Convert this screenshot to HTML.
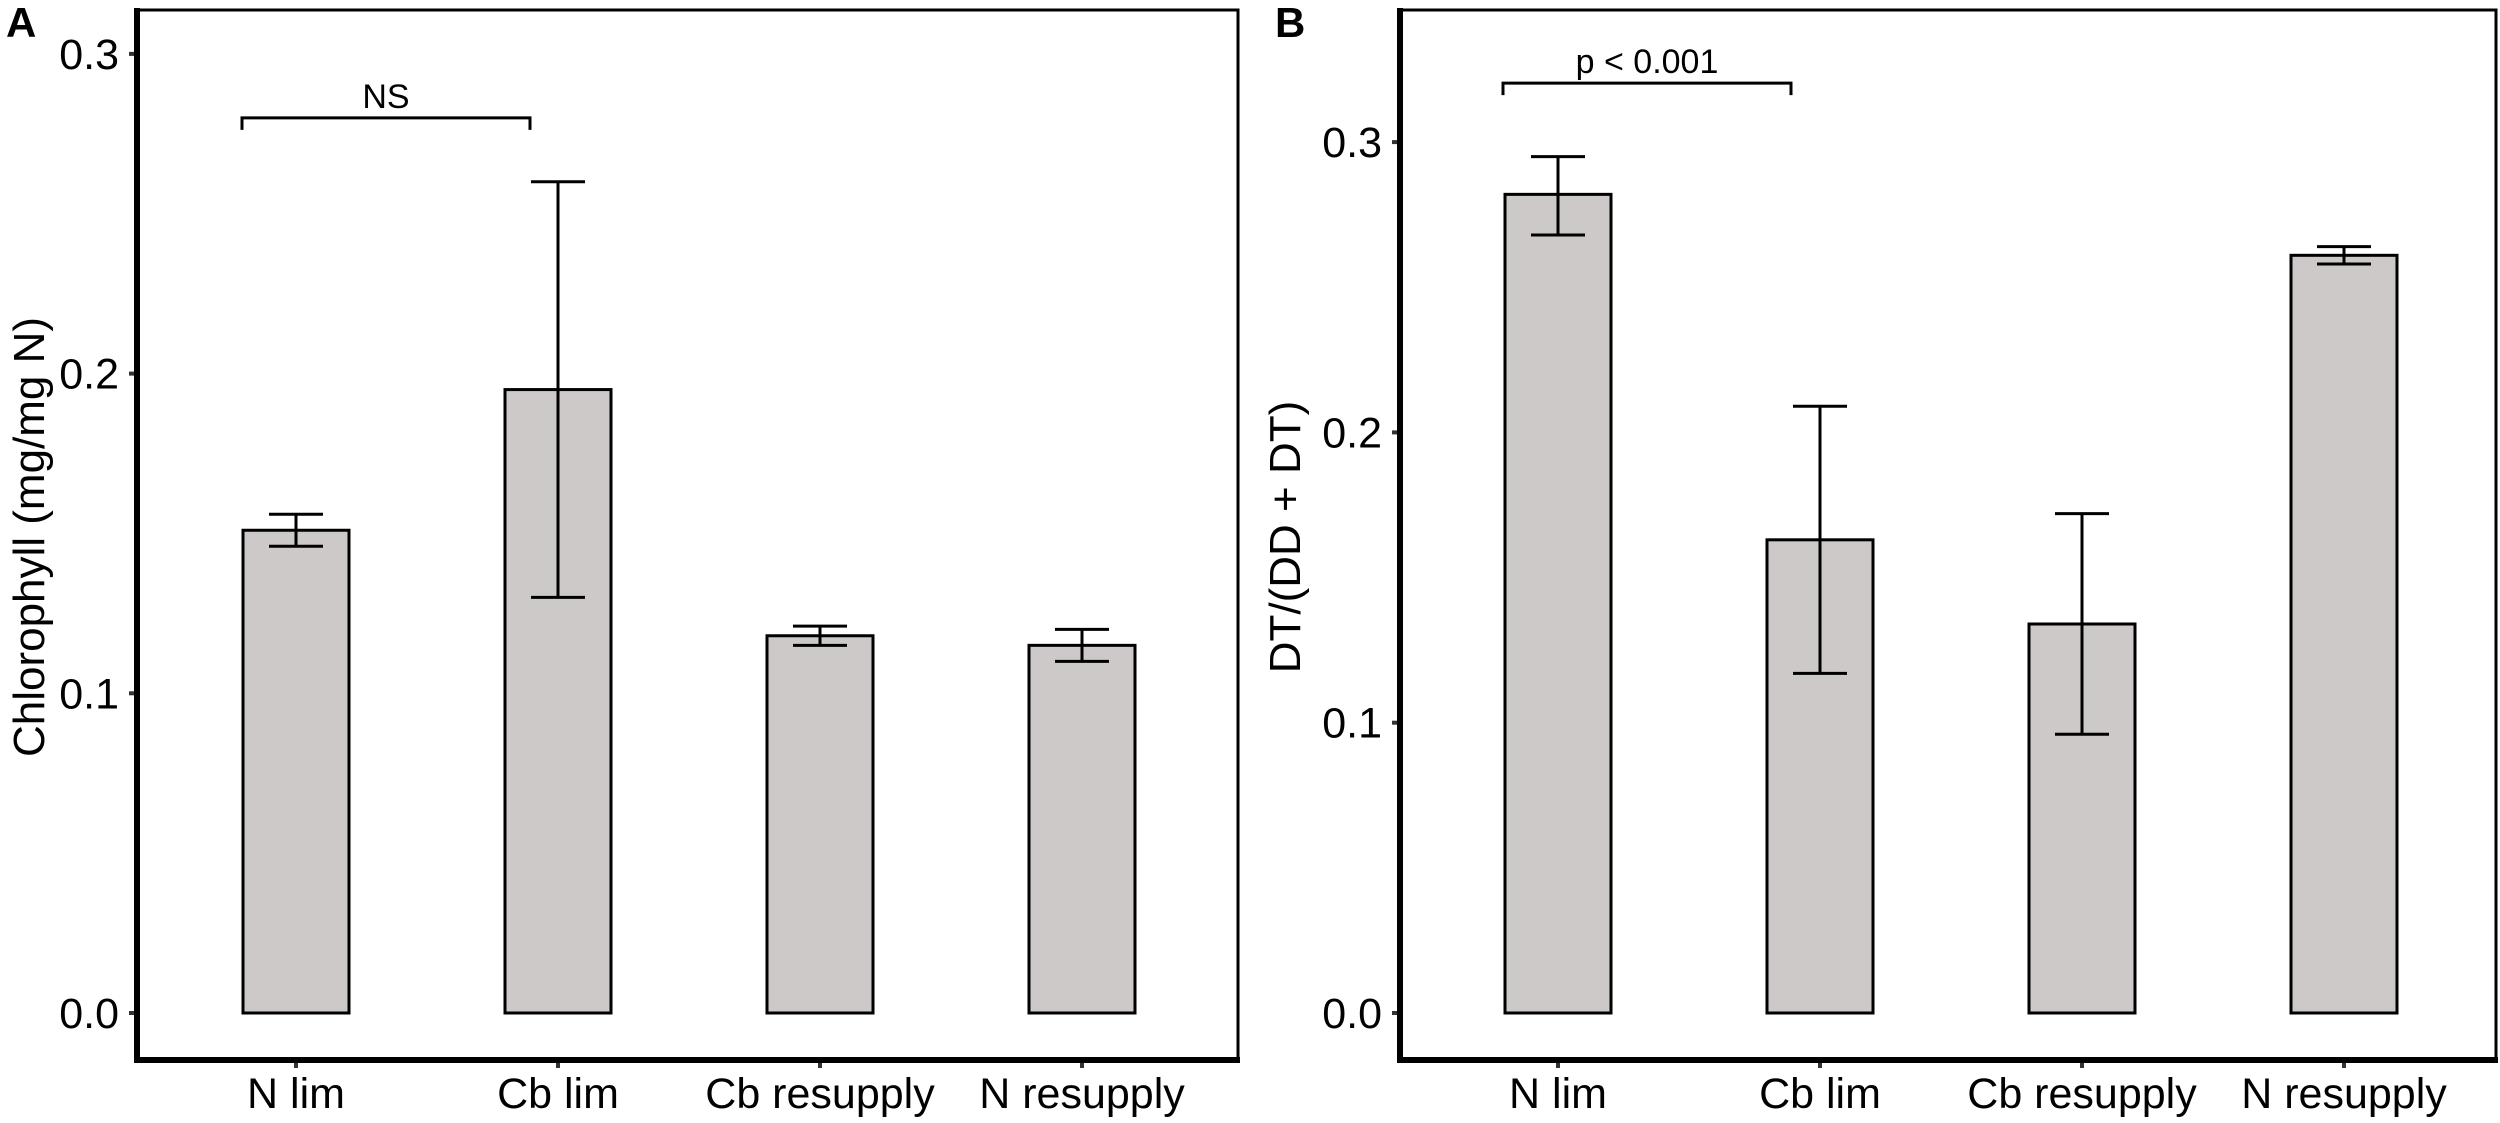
<!DOCTYPE html>
<html><head><meta charset="utf-8"><style>
html,body{margin:0;padding:0;background:#fff;}
svg{display:block;font-family:"Liberation Sans",Arial,sans-serif;}
</style></head><body>
<svg id="c" width="2500" height="1123" viewBox="0 0 2500 1123" xmlns="http://www.w3.org/2000/svg"></svg>
<script>
const categories = ["N lim","Cb lim","Cb resupply","N resupply"];
const chlValues = [0.151, 0.195, 0.118, 0.115];
const chlLow = [0.146, 0.130, 0.115, 0.110];
const chlHigh = [0.156, 0.260, 0.121, 0.120];
const dtValues = [0.282, 0.163, 0.134, 0.261];
const dtLow = [0.268, 0.117, 0.096, 0.258];
const dtHigh = [0.295, 0.209, 0.172, 0.264];
const ticksA = [0.0, 0.1, 0.2, 0.3];
const ticksB = [0.0, 0.1, 0.2, 0.3];

const NS = "http://www.w3.org/2000/svg";
const svg = document.getElementById('c');
function mk(tag, attrs, parent){const e=document.createElementNS(NS,tag);for(const k in attrs)e.setAttribute(k,attrs[k]);(parent||svg).appendChild(e);return e;}

const panels = [
 {id:'a', letter:'A', letterX:6, left:137, right:2500, rightB:1238, y0:1013, perUnit:3197, x0:296, step:262,
  vals:chlValues, lo:chlLow, hi:chlHigh, ticks:ticksA, ylabel:'Chlorophyll (mg/mg N)', ylabelX:44,
  br:{x1:242,x2:530,v:0.28,legV:0.2765,text:'NS'}},
 {id:'b', letter:'B', letterX:1275, left:1400, rightB:2496, y0:1013, perUnit:2903, x0:1558, step:262,
  vals:dtValues, lo:dtLow, hi:dtHigh, ticks:ticksB, ylabel:'DT/(DD + DT)', ylabelX:1300,
  br:{x1:1503,x2:1791,v:0.3203,legV:0.3162,text:'p < 0.001'}}
];

panels.forEach(p=>{
  const g = mk('g',{});
  
  
  const yS = v => p.y0 - v*p.perUnit;
  const xS = i => p.x0 + i*p.step;
  // frame
  const fr = mk('rect',{x:p.left,y:10,width:p.rightB-p.left,height:1050,fill:'none',stroke:'#000','stroke-width':3},g);
  
  
  const ya = mk('line',{x1:p.left,y1:8,x2:p.left,y2:1062,stroke:'#000','stroke-width':6},g);
  
  
  const xa = mk('line',{x1:p.left-3,y1:1060,x2:p.rightB+2,y2:1060,stroke:'#000','stroke-width':6},g);
  
  
  // y ticks
  p.ticks.forEach(t=>{
    const y=yS(t);
    const tk=mk('line',{x1:p.left-8,y1:y,x2:p.left-3,y2:y,stroke:'#333','stroke-width':4},g);
    
    
    const tl=mk('text',{x:p.left-18,y:y+15,'font-size':43,'text-anchor':'end',fill:'#000'},g);
    tl.textContent=t.toFixed(1);
    
    
  });
  // bars
  categories.forEach((c,i)=>{
    const cx=xS(i), w=106;
    const b=mk('rect',{x:cx-w/2,y:yS(p.vals[i]),width:w,height:yS(0)-yS(p.vals[i]),fill:'#cdc9c8',stroke:'#000','stroke-width':3},g);
    
    
    const eb=mk('path',{d:`M${cx},${yS(p.hi[i])}V${yS(p.lo[i])}M${cx-27},${yS(p.hi[i])}H${cx+27}M${cx-27},${yS(p.lo[i])}H${cx+27}`,stroke:'#000','stroke-width':3,fill:'none'},g);
    
    
    const tk=mk('line',{x1:cx,y1:1063,x2:cx,y2:1068,stroke:'#333','stroke-width':4},g);
    
    
    const xl=mk('text',{x:cx,y:1108,'font-size':43,'text-anchor':'middle',fill:'#000'},g);
    xl.textContent=c;
    
    
  });
  // bracket
  const by=yS(p.br.v), ly=yS(p.br.legV)+ (by-yS(p.br.legV)) ;
  const bk=mk('path',{d:`M${p.br.x1},${by+12}V${by}H${p.br.x2}V${by+12}`,stroke:'#000','stroke-width':3,fill:'none'},g);
  
  
  const bt=mk('text',{x:(p.br.x1+p.br.x2)/2,y:by-10,'font-size':34,'text-anchor':'middle',fill:'#000'},g);
  bt.textContent=p.br.text;
  
  
  // y label
  const yl=mk('text',{x:p.ylabelX,y:537,'font-size':44,'text-anchor':'middle',fill:'#000',transform:`rotate(-90 ${p.ylabelX} 537)`},g);
  yl.textContent=p.ylabel;
  
  
  const pl=mk('text',{x:p.letterX,y:37,'font-size':42,'font-weight':'bold',fill:'#000'},g);
  pl.textContent=p.letter;
  
  
});
</script>
</body></html>
